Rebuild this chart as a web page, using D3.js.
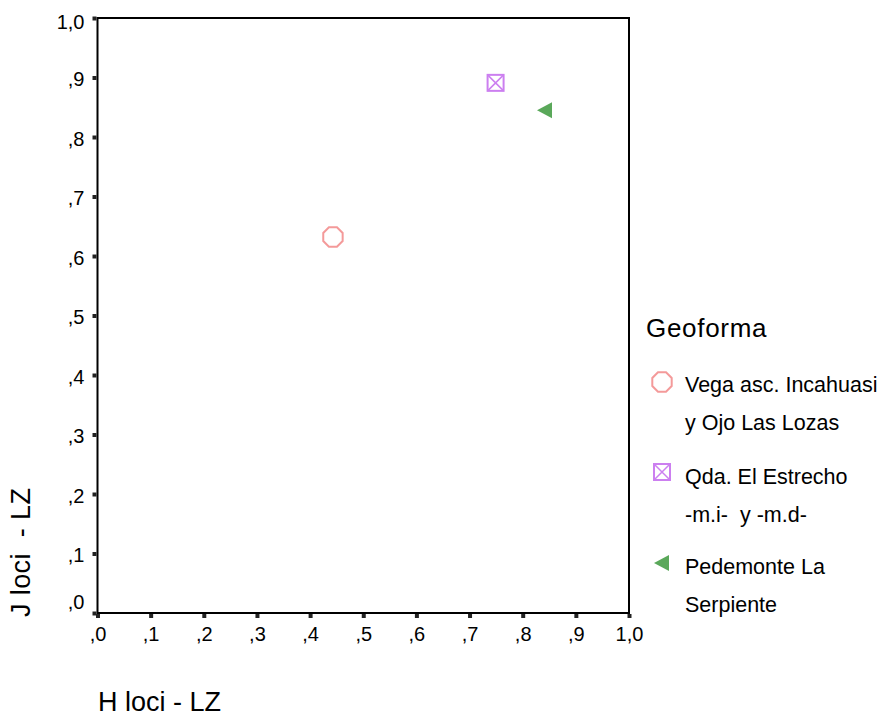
<!DOCTYPE html>
<html><head><meta charset="utf-8">
<script src="https://cdn.jsdelivr.net/npm/d3@7"></script>
<style>body{margin:0;background:#fff}text{font-family:Arial,"Liberation Sans",sans-serif;white-space:pre}</style>
</head><body>
<svg id="c" width="884" height="717"></svg>
<script>
const categories = ["Vega asc. Incahuasi|y Ojo Las Lozas", "Qda. El Estrecho|-m.i-  y -m.d-", "Pedemonte La|Serpiente"];
const xValues = [0.443, 0.749, 0.842];
const yValues = [0.632, 0.891, 0.845];
const colors = ["#f49a9a", "#cc7ff0", "#5aa85a"];
const shapes = ["octagon", "xsquare", "triangle"];
const tickValues = [0,0.1,0.2,0.3,0.4,0.5,0.6,0.7,0.8,0.9,1.0];
const tickLabels = [",0",",1",",2",",3",",4",",5",",6",",7",",8",",9","1,0"];

const svg = d3.select("#c");
const x = d3.scaleLinear().domain([0,1]).range([97.5, 629]);
const y = d3.scaleLinear().domain([0,1]).range([613, 18]);

// frame
svg.append("rect").attr("x",x(0)).attr("y",y(1)).attr("width",x(1)-x(0)).attr("height",y(0)-y(1))
  .attr("fill","none").attr("stroke","#000").attr("stroke-width",2);

// x axis
const xa = svg.append("g").attr("transform",`translate(0,${y(0)})`)
  .call(d3.axisBottom(x).tickValues(tickValues).tickFormat((d,i)=>tickLabels[i]).tickSize(4).tickPadding(10));
xa.attr("font-size",null).attr("font-family",null);
xa.select(".domain").remove();
xa.selectAll(".tick line").attr("stroke","#222").attr("stroke-width",4).attr("transform","translate(0,1)");
xa.selectAll(".tick text").style("font-size","20px").attr("fill","#000");

// y axis
const ya = svg.append("g").attr("transform",`translate(${x(0)},0)`)
  .call(d3.axisLeft(y).tickValues(tickValues).tickFormat((d,i)=>tickLabels[i]).tickSize(4).tickPadding(9));
ya.attr("font-size",null).attr("font-family",null);
ya.select(".domain").remove();
ya.selectAll(".tick line").attr("stroke","#222").attr("stroke-width",4).attr("transform","translate(-1,0)");
ya.selectAll(".tick text").style("font-size","20px").attr("fill","#000")
  .attr("dy",(d)=> d===0 ? "-0.25em" : (d===1 ? "0.5em" : "0.4em"));

// axis titles
svg.append("text").attr("x",98).attr("y",711).style("font-size","27px").text("H loci - LZ");
svg.append("text").attr("transform","translate(30,617) rotate(-90)").style("font-size","27px")
  .attr("letter-spacing",0.4).text("J loci  - LZ");

function drawShape(g, shape, color){
  if(shape==="octagon"){
    const r=10.5, pts=[];
    for(let k=0;k<8;k++){const a=Math.PI/8+k*Math.PI/4;pts.push([r*Math.cos(a),r*Math.sin(a)]);}
    g.append("polygon").attr("points",pts.map(p=>p.join(",")).join(" "))
      .attr("fill","none").attr("stroke",color).attr("stroke-width",2);
  } else if(shape==="xsquare"){
    const s=8;
    g.append("rect").attr("x",-s).attr("y",-s).attr("width",2*s).attr("height",2*s)
      .attr("fill","none").attr("stroke",color).attr("stroke-width",2);
    g.append("path").attr("d",`M${-s},${-s}L${s},${s}M${s},${-s}L${-s},${s}`)
      .attr("stroke",color).attr("stroke-width",1.5);
  } else {
    g.append("path").attr("d","M-8,0L7,-8L7,8Z").attr("fill",color);
  }
}

// points
categories.forEach((c,i)=>{
  const g = svg.append("g").attr("transform",`translate(${x(xValues[i])},${y(yValues[i])})`);
  drawShape(g, shapes[i], colors[i]);
});

// legend
svg.append("text").attr("x",646).attr("y",337).style("font-size","26px").attr("letter-spacing",0.7).text("Geoforma");
const legY = [382, 472, 563];
const legBase = [392, 484, 574];
categories.forEach((c,i)=>{
  const g = svg.append("g").attr("transform",`translate(662,${legY[i]})`);
  drawShape(g, shapes[i], colors[i]);
  c.split("|").forEach((l,j)=>{
    svg.append("text").attr("x",685).attr("y",legBase[i]+j*38).style("font-size","21.5px")
      .attr("xml:space","preserve").text(l);
  });
});
</script>
</body></html>
